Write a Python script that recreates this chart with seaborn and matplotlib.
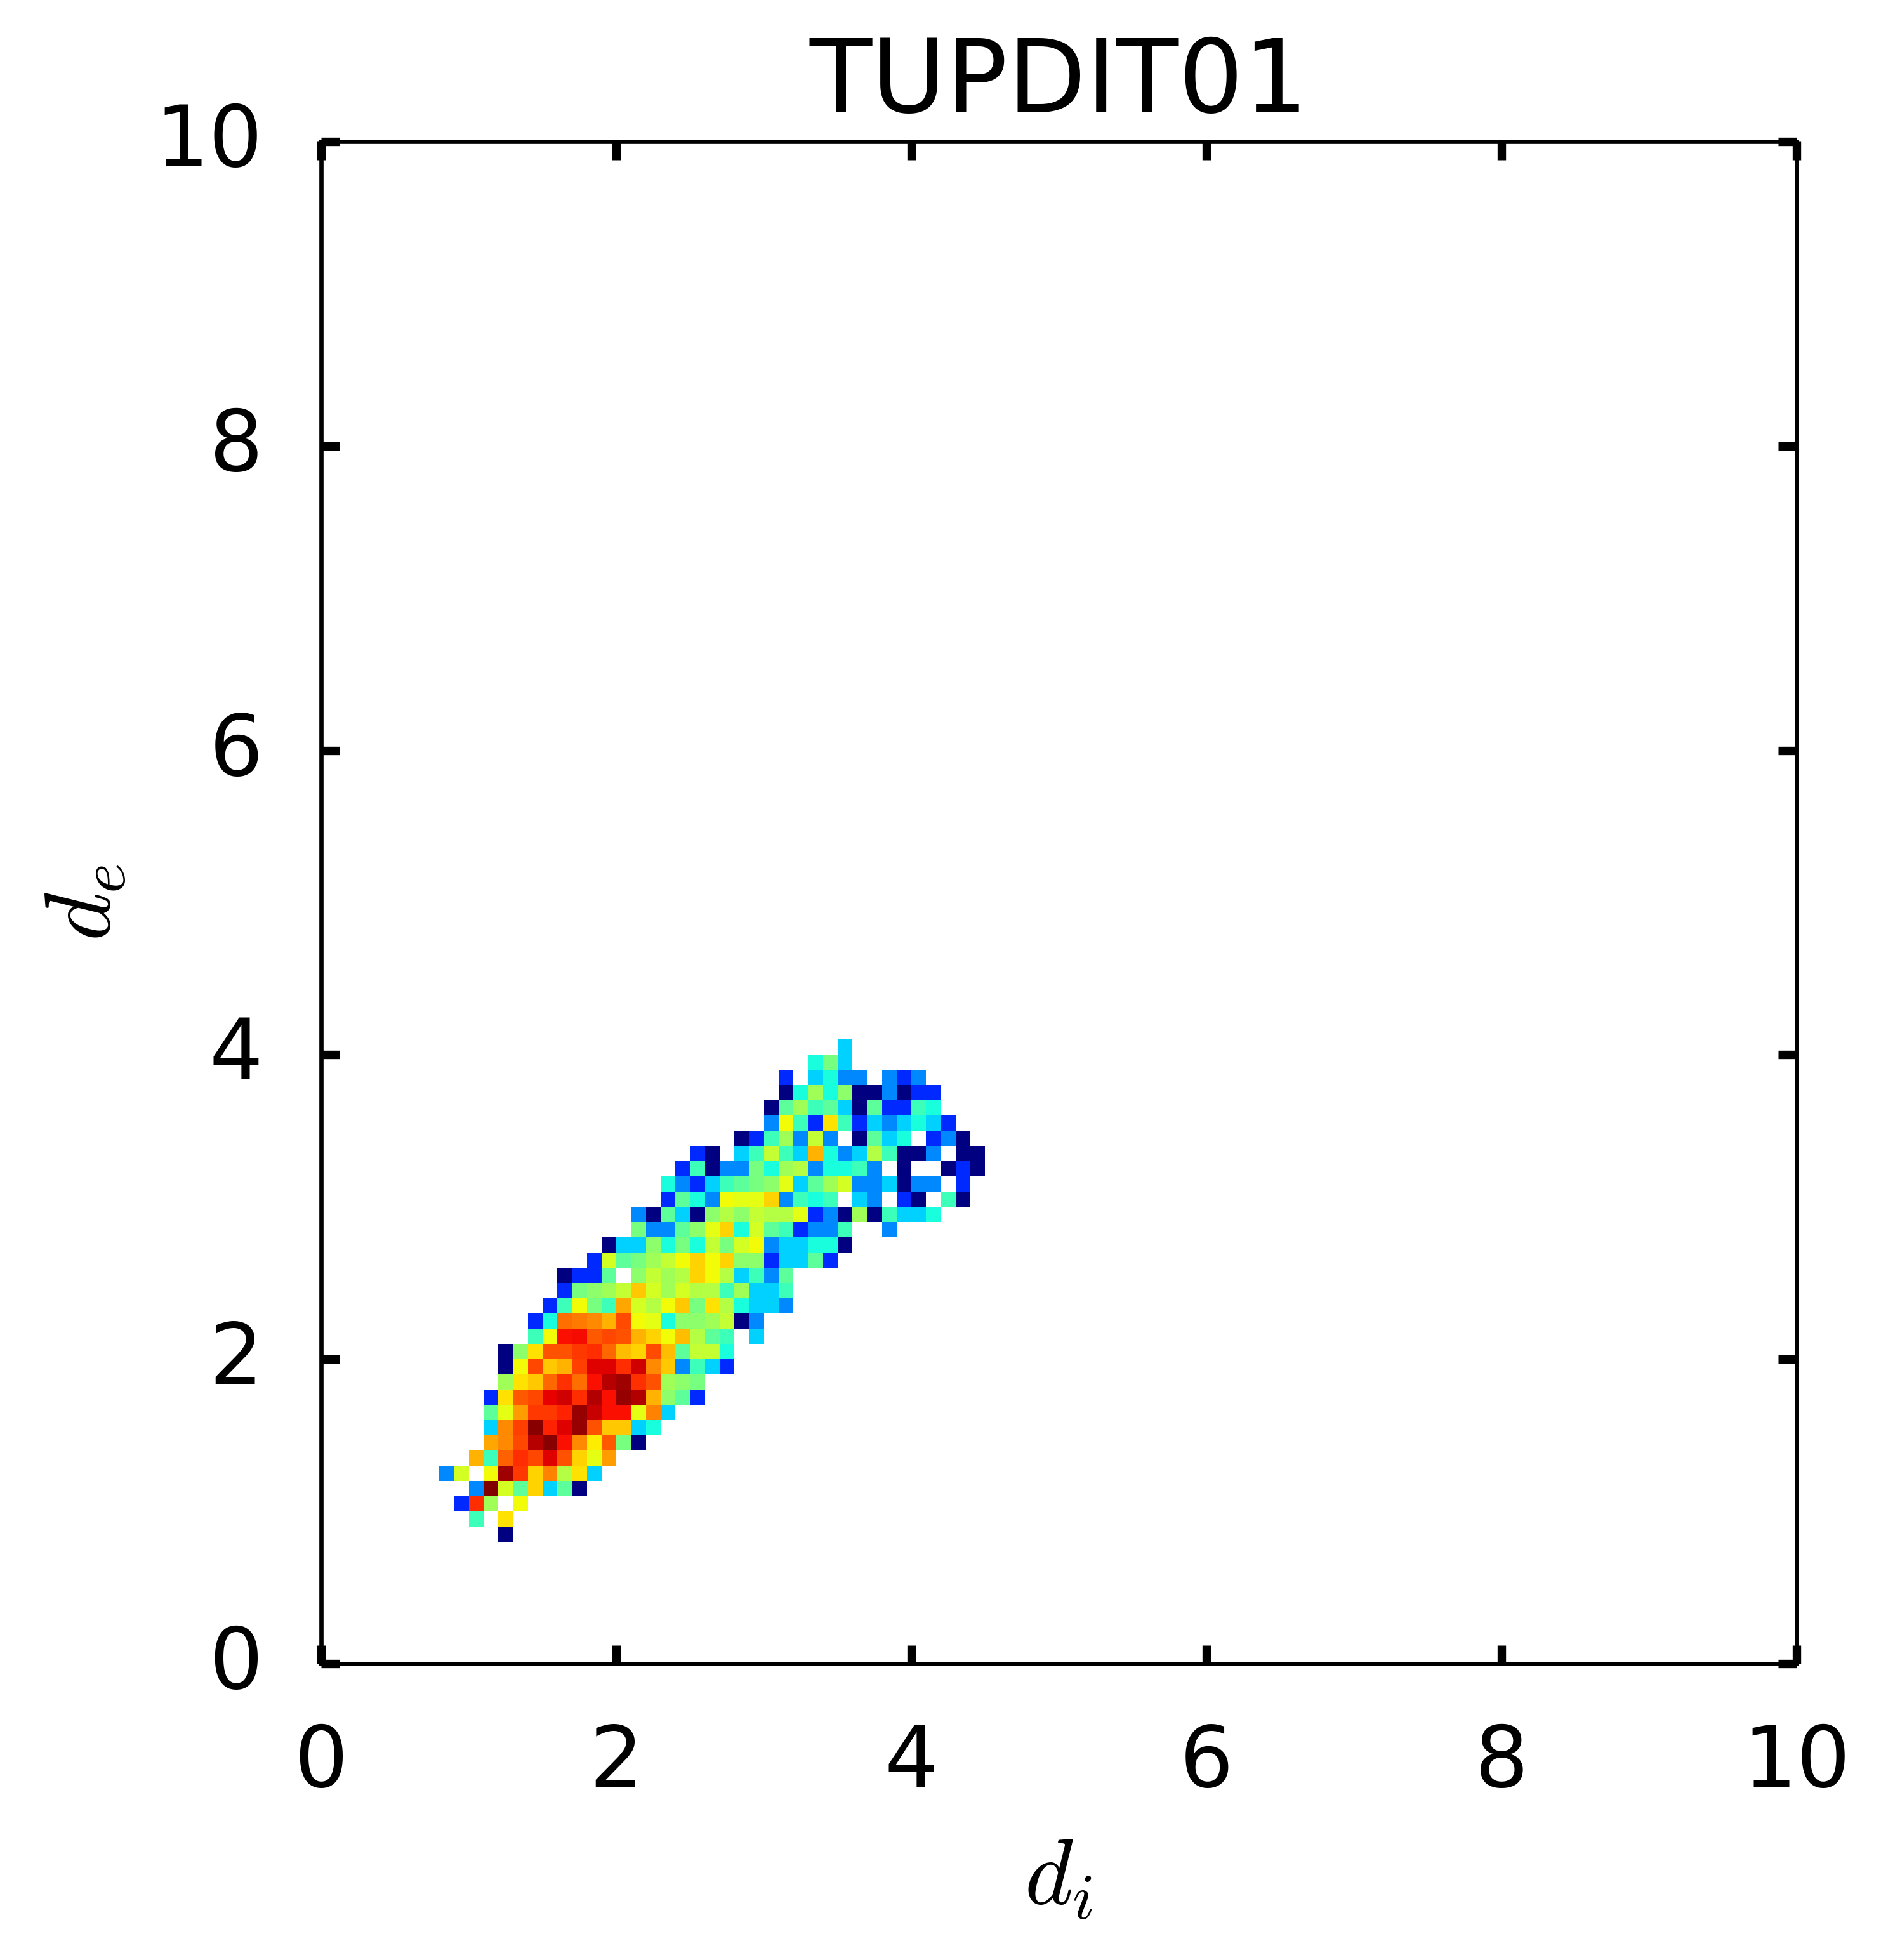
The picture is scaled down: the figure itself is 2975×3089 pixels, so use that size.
import numpy as np
import matplotlib
matplotlib.use("Agg")
import matplotlib.pyplot as plt
from matplotlib.colors import LogNorm
from matplotlib.transforms import ScaledTranslation
import seaborn as sns

TITLE = "TUPDIT01"
XLABEL = r"$d_i$"
YLABEL = r"$d_e$"
TICK_VALUES = [0, 2, 4, 6, 8, 10]
BIN_WIDTH = 0.1
GRID_SIZE = 100
COUNT_MAX = 68

# First occupied d_e bin (bottom row), first d_i bin of each row, and counts per bin
FIRST_ROW = 8
ROW_STARTS = [12, 10, 9, 10, 8, 10, 11, 11, 11, 11, 12, 12, 12, 14, 14, 15, 16, 16, 18, 19,
              21, 21, 23, 23, 24, 25, 28, 30, 30, 31, 31, 33, 35]
ROW_COUNTS = [
    [1],
    [6, 0, 17],
    [2, 38, 10, 0, 15],
    [3, 68, 13, 7, 18, 4, 7, 1],
    [3, 13, 0, 15, 60, 36, 18, 26, 11, 17, 4],
    [21, 6, 30, 38, 34, 48, 32, 18, 14, 23],
    [22, 25, 34, 55, 65, 43, 25, 16, 31, 8, 1],
    [4, 25, 35, 65, 40, 48, 62, 32, 19, 19, 4, 5],
    [7, 14, 23, 36, 36, 40, 62, 52, 43, 43, 14, 26, 4],
    [2, 17, 31, 34, 46, 50, 38, 56, 43, 62, 56, 21, 9, 7, 2],
    [10, 17, 19, 29, 37, 28, 43, 55, 60, 37, 32, 10, 9, 8],
    [1, 15, 34, 19, 21, 35, 48, 48, 38, 50, 25, 19, 3, 6, 4, 2],
    [1, 9, 17, 32, 32, 36, 38, 29, 20, 18, 33, 20, 7, 12, 12, 5],
    [6, 15, 43, 44, 31, 34, 32, 21, 18, 15, 20, 11, 7, 6, 0, 4],
    [2, 5, 28, 27, 25, 21, 33, 15, 14, 5, 9, 9, 10, 12, 1, 3],
    [2, 6, 15, 8, 6, 22, 13, 11, 15, 19, 8, 17, 11, 5, 4, 4, 3],
    [2, 8, 9, 10, 12, 19, 13, 10, 13, 11, 11, 6, 10, 4, 4, 6],
    [1, 2, 2, 7, 0, 9, 12, 10, 11, 18, 15, 11, 4, 6, 3, 7],
    [2, 13, 7, 8, 10, 12, 15, 18, 15, 18, 9, 9, 2, 4, 4, 7, 2],
    [1, 4, 4, 9, 5, 8, 5, 12, 8, 13, 15, 3, 4, 4, 5, 5, 1],
    [8, 3, 3, 7, 9, 14, 18, 5, 13, 7, 6, 2, 3, 3, 6, 0, 0, 3],
    [3, 1, 7, 4, 1, 9, 11, 9, 12, 11, 11, 14, 2, 3, 1, 10, 1, 6, 4, 4, 5],
    [2, 7, 5, 3, 15, 14, 14, 18, 3, 6, 5, 6, 0, 4, 3, 0, 2, 1, 0, 6, 1],
    [5, 3, 2, 4, 6, 7, 8, 9, 14, 4, 7, 10, 13, 3, 3, 4, 1, 3, 3, 0, 2],
    [2, 6, 1, 3, 3, 8, 5, 10, 11, 3, 5, 5, 6, 3, 0, 1, 0, 0, 1, 2, 1],
    [2, 1, 0, 4, 6, 12, 6, 4, 21, 5, 3, 4, 11, 6, 1, 1, 3, 0, 1, 1],
    [1, 2, 6, 10, 3, 12, 3, 0, 1, 7, 4, 5, 0, 2, 3, 1],
    [3, 15, 6, 2, 17, 6, 2, 4, 3, 4, 5, 4, 2],
    [1, 7, 10, 6, 7, 4, 1, 7, 2, 2, 6, 5],
    [1, 5, 10, 5, 9, 1, 1, 3, 1, 2, 2],
    [2, 0, 4, 5, 3, 3, 0, 3, 2, 3],
    [5, 8, 4],
    [4],
]

counts = np.zeros((GRID_SIZE, GRID_SIZE))
for i, (start, vals) in enumerate(zip(ROW_STARTS, ROW_COUNTS)):
    counts[FIRST_ROW + i, start:start + len(vals)] = vals

sns.set_theme(style="white")
plt.rcParams["font.family"] = ["DejaVu Sans"]
plt.rcParams["mathtext.fontset"] = "cm"

W, H, DPI = 2975, 3089, 600
fig = plt.figure(figsize=(W / DPI, H / DPI), dpi=DPI, facecolor="white")
ax = fig.add_axes([506 / W, 1 - 2622 / H, (2831 - 506) / W, (2622 - 223) / H])

sns.heatmap(counts, mask=counts == 0, cmap="jet", norm=LogNorm(vmin=1, vmax=COUNT_MAX),
            cbar=False, square=False, linewidths=0, xticklabels=False, yticklabels=False, ax=ax)
ax.set_xlim(0, GRID_SIZE)
ax.set_ylim(0, GRID_SIZE)

positions = [t / BIN_WIDTH for t in TICK_VALUES]
labels = [str(t) for t in TICK_VALUES]
ax.set_xticks(positions, labels)
ax.set_yticks(positions, labels)
ax.tick_params(axis="both", which="major", direction="in", top=True, right=True, bottom=True, left=True,
               length=3.5, width=1.6, color="black", labelcolor="black", labelsize=16, pad=11)
lift = ScaledTranslation(0, 12 / DPI, fig.dpi_scale_trans)
for lab in ax.get_yticklabels():
    lab.set_transform(lab.get_transform() + lift)
for s in ax.spines.values():
    s.set_visible(True)
    s.set_color("black")
    s.set_linewidth(0.8)

ax.set_title(TITLE, fontsize=19.3, color="black", pad=5.5)
ax.set_xlabel(XLABEL, fontsize=17.5, color="black", labelpad=5.5)
ax.set_ylabel(YLABEL, fontsize=17.5, color="black", labelpad=5)

fig.savefig("out.png", dpi=DPI, facecolor="white")
